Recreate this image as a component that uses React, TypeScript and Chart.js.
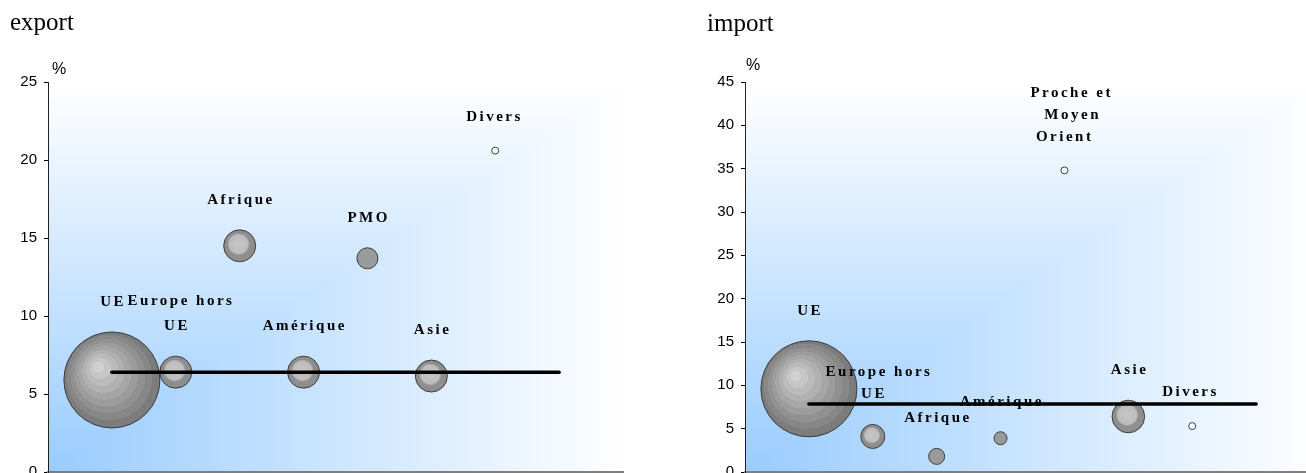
import React, { useEffect, useRef } from "react";
import { Chart, registerables } from "chart.js";

Chart.register(...registerables);

// ---------- DATA ----------
const exportCategories = ["UE", "Europe hors UE", "Afrique", "Amérique", "PMO", "Asie", "Divers"];
const exportLabels = ["UE", "Europe hors\nUE", "Afrique", "Amérique", "PMO", "Asie", "Divers"];
const exportValues = [5.9, 6.4, 14.5, 6.4, 13.7, 6.15, 20.6];
const exportSizes = [48, 16, 16, 16, 10.5, 16, 3.5];
const exportAverage = 6.4;
const exportYMax = 25;

const importCategories = ["UE", "Europe hors UE", "Afrique", "Amérique", "Proche et Moyen Orient", "Asie", "Divers"];
const importLabels = ["UE", "Europe hors\nUE", "Afrique", "Amérique", "Proche et\nMoyen\nOrient", "Asie", "Divers"];
const importValues = [9.6, 4.1, 1.8, 3.9, 34.8, 6.4, 5.3];
const importSizes = [48, 12, 8, 6.5, 3.5, 16.3, 3.5];
const importAverage = 7.85;
const importYMax = 45;

const yStep = 5;
const averageLineStart = 1;
const averageLineEnd = 8;
const xMin = 0;
const xMax = 9;

// ---------- HELPERS ----------
function bubbleFill(c: any) {
  const chart = c.chart;
  const raw = c.raw;
  if (!raw || !chart.scales || !chart.scales.x || !chart.scales.y) return "#999999";
  const r = raw.r;
  if (r < 6) return "#ffffff";
  if (r < 11) return "#9a9a9a";
  const cx = chart.scales.x.getPixelForValue(raw.x);
  const cy = chart.scales.y.getPixelForValue(raw.y);
  if (!isFinite(cx) || !isFinite(cy)) return "#999999";
  const g = chart.ctx as CanvasRenderingContext2D;
  if (r >= 30) {
    const grad = g.createRadialGradient(cx - 0.3 * r, cy - 0.3 * r, 0, cx - 0.02 * r, cy - 0.02 * r, r);
    const n = 9;
    for (let i = 0; i < n; i++) {
      const v = Math.round(208 - (i * (208 - 124)) / (n - 1));
      const col = `rgb(${v},${v},${v})`;
      grad.addColorStop(i / n, col);
      grad.addColorStop(Math.min(1, (i + 1) / n - 0.002), col);
    }
    return grad;
  }
  const hx = cx - 0.07 * r;
  const hy = cy - 0.1 * r;
  const grad = g.createRadialGradient(hx, hy, 0, hx, hy, 0.7 * r);
  grad.addColorStop(0, "#c6c6c6");
  grad.addColorStop(0.82, "#bdbdbd");
  grad.addColorStop(0.92, "#a4a4a4");
  grad.addColorStop(1, "#8e8e8e");
  return grad;
}

const backgroundPlugin = {
  id: "cornerGradient",
  beforeDraw(chart: any) {
    const { ctx, chartArea } = chart;
    if (!chartArea) return;
    const w = Math.round(chartArea.right - chartArea.left);
    const h = Math.round(chartArea.bottom - chartArea.top);
    if (w <= 0 || h <= 0) return;
    const off = document.createElement("canvas");
    off.width = w;
    off.height = h;
    const octx = off.getContext("2d")!;
    const img = octx.createImageData(w, h);
    const c0 = [153, 204, 255];
    const c1 = [255, 255, 255];
    for (let y = 0; y < h; y++) {
      const v = (h - y) / h;
      for (let x = 0; x < w; x++) {
        const u = x / w;
        const t = Math.min(1, Math.max(u, v));
        const k = (y * w + x) * 4;
        img.data[k] = c0[0] + (c1[0] - c0[0]) * t;
        img.data[k + 1] = c0[1] + (c1[1] - c0[1]) * t;
        img.data[k + 2] = c0[2] + (c1[2] - c0[2]) * t;
        img.data[k + 3] = 255;
      }
    }
    octx.putImageData(img, 0, 0);
    ctx.save();
    ctx.drawImage(off, chartArea.left, chartArea.top);
    ctx.restore();
  },
};

const labelPlugin = {
  id: "bubbleLabels",
  afterDatasetDraw(chart: any, args: any, opts: any) {
    if (args.meta.type !== "bubble") return;
    const labels: string[] = opts.labels || [];
    const shifts: number[][] = opts.shifts || [];
    const lh: number = opts.lineHeight || 23;
    const ctx = chart.ctx as CanvasRenderingContext2D;
    ctx.save();
    ctx.font = "bold 15px 'Liberation Serif', 'Times New Roman', serif";
    (ctx as any).letterSpacing = "2.5px";
    ctx.fillStyle = "#000000";
    ctx.textAlign = "center";
    ctx.textBaseline = "middle";
    args.meta.data.forEach((el: any, i: number) => {
      const text = labels[i];
      if (!text) return;
      const lines = text.split("\n");
      const r = el.options.radius;
      const lastY = el.y - r - 30;
      lines.forEach((line, k) => {
        const dx = (shifts[i] && shifts[i][k]) || 0;
        ctx.fillText(line, el.x + 1.25 + dx, lastY - (lines.length - 1 - k) * lh);
      });
    });
    ctx.restore();
  },
};

const textPlugin = {
  id: "panelTexts",
  afterDraw(chart: any, _args: any, opts: any) {
    const ctx = chart.ctx as CanvasRenderingContext2D;
    ctx.save();
    ctx.fillStyle = "#000";
    ctx.textBaseline = "alphabetic";
    ctx.textAlign = "left";
    ctx.font = "25px 'Liberation Serif', 'Times New Roman', serif";
    ctx.fillText(opts.title, opts.titleX, opts.titleY);
    ctx.textAlign = "center";
    ctx.textBaseline = "middle";
    ctx.font = "16px 'Liberation Sans', Arial, sans-serif";
    ctx.fillText("%", opts.unitX, opts.unitY);
    ctx.restore();
  },
};

type PanelProps = {
  categories: string[];
  labels: string[];
  shifts: number[][];
  values: number[];
  sizes: number[];
  average: number;
  yMax: number;
  title: string;
  left: number;
  width: number;
  axisWidth: number;
  padRight: number;
  titleX: number;
  titleY: number;
  unitX: number;
  unitY: number;
  lineHeight: number;
};

function Panel(p: PanelProps) {
  const ref = useRef<HTMLCanvasElement | null>(null);
  useEffect(() => {
    if (!ref.current) return;
    const points = p.categories.map((name, i) => ({ x: i + 1, y: p.values[i], r: p.sizes[i], name }));
    const chart = new Chart(ref.current, {
      type: "bubble",
      data: {
        datasets: [
          {
            type: "line",
            data: [
              { x: averageLineStart, y: p.average },
              { x: averageLineEnd, y: p.average },
            ],
            borderColor: "#000000",
            borderWidth: 3.5,
            borderCapStyle: "round",
            pointRadius: 0,
            order: 0,
          } as any,
          {
            type: "bubble",
            data: points,
            backgroundColor: bubbleFill,
            borderColor: "#3c3c3c",
            borderWidth: 1,
            hoverRadius: 0,
            order: 1,
          } as any,
        ],
      },
      options: {
        responsive: false,
        animation: false,
        events: [],
        layout: { autoPadding: false, padding: { left: 0, right: p.padRight, top: 82, bottom: 18 } },
        plugins: {
          legend: { display: false },
          tooltip: { enabled: false },
          bubbleLabels: { labels: p.labels, shifts: p.shifts, lineHeight: p.lineHeight },
          panelTexts: {
            title: p.title,
            titleX: p.titleX,
            titleY: p.titleY,
            unitX: p.unitX,
            unitY: p.unitY,
          },
        } as any,
        scales: {
          x: {
            type: "linear",
            min: xMin,
            max: xMax,
            ticks: { display: false },
            grid: { display: false, drawTicks: false },
            border: { display: true, color: "#7f7f7f", width: 2 },
            afterFit: (s: any) => {
              s.height = 0;
            },
          },
          y: {
            type: "linear",
            min: 0,
            max: p.yMax,
            ticks: {
              stepSize: yStep,
              color: "#000",
              padding: 7,
              font: { family: "'Liberation Sans', Arial, sans-serif", size: 15 },
            },
            grid: { drawOnChartArea: false, drawTicks: true, tickLength: 4, color: "#000" },
            border: { display: true, color: "#222", width: 1 },
            afterFit: (s: any) => {
              s.width = p.axisWidth;
            },
          },
        },
      },
      plugins: [backgroundPlugin, labelPlugin, textPlugin],
    });
    return () => chart.destroy();
  }, []);
  return (
    <canvas
      ref={ref}
      width={p.width}
      height={490}
      style={{ position: "absolute", left: p.left, top: 0, width: p.width, height: 490 }}
    />
  );
}

export default function App() {
  return (
    <div
      style={{
        position: "fixed",
        left: 0,
        top: 0,
        width: 1306,
        height: 473,
        overflow: "hidden",
        background: "#ffffff",
      }}
    >
      <Panel
        categories={exportCategories}
        labels={exportLabels}
        shifts={[[], [4, 0], [], [], [], [], [-2]]}
        values={exportValues}
        sizes={exportSizes}
        average={exportAverage}
        yMax={exportYMax}
        title="export"
        left={0}
        width={650}
        axisWidth={48}
        padRight={27}
        titleX={10}
        titleY={30}
        unitX={59}
        unitY={70}
        lineHeight={25}
      />
      <Panel
        categories={importCategories}
        labels={importLabels}
        shifts={[[], [5, 0], [], [], [6, 7, -1], [], [-3]]}
        values={importValues}
        sizes={importSizes}
        average={importAverage}
        yMax={importYMax}
        title="import"
        left={650}
        width={670}
        axisWidth={95}
        padRight={0}
        titleX={57}
        titleY={31}
        unitX={103}
        unitY={66}
        lineHeight={22}
      />
    </div>
  );
}
